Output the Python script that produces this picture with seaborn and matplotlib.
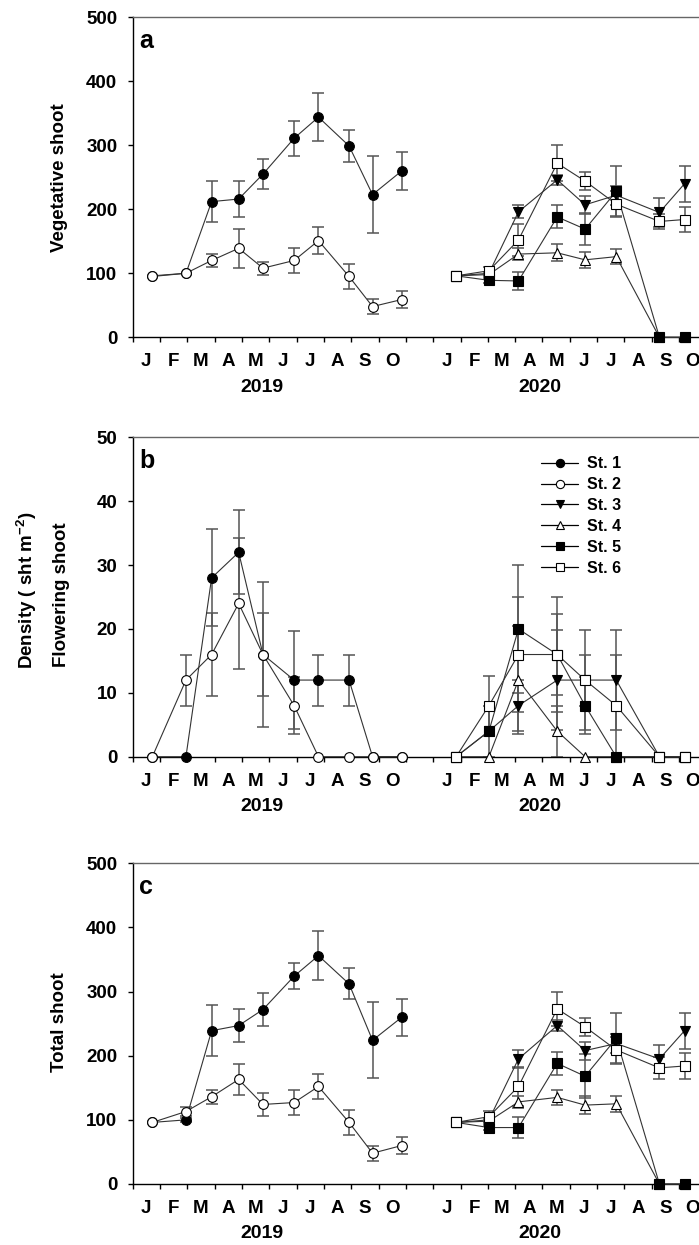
import pandas as pd
import matplotlib
matplotlib.use("Agg")
import matplotlib.pyplot as plt
from matplotlib.lines import Line2D
from matplotlib.ticker import NullFormatter
import seaborn as sns

sns.set_style("ticks")
plt.rcParams.update({
    "font.family": ["Liberation Sans", "DejaVu Sans"],
    "font.weight": "bold",
    "axes.labelweight": "bold",
    "text.color": "black",
    "axes.labelcolor": "black",
    "xtick.color": "black",
    "ytick.color": "black",
    "mathtext.fontset": "custom",
    "mathtext.rm": "Liberation Sans:bold",
    "mathtext.bf": "Liberation Sans:bold",
    "mathtext.default": "bf",
})

# sampling dates, in months from 1 Jan 2019 (Nov/Dec 2019 squeezed into one slot)
X_2019 = [0.72, 1.95, 2.89, 3.88, 4.77, 5.91, 6.80, 7.92, 8.78, 9.85]
X_2020 = [11.84, 13.04, 14.12, 15.54, 16.56, 17.70, 19.28, 20.20]
MONTHS = ["J", "F", "M", "A", "M", "J", "J", "A", "S", "O"]
STATIONS = ["St. 1", "St. 2", "St. 3", "St. 4", "St. 5", "St. 6"]

# (a) vegetative shoot density, mean and SE
veg_st1 = [96, 100, 212, 216, 255, 311, 344, 299, 223, 260]
veg_st1_se = [0, 0, 32, 28, 23, 27, 37, 25, 60, 30]
veg_st2 = [95, 100, 120, 139, 108, 120, 151, 95, 48, 59]
veg_st2_se = [0, 0, 10, 30, 10, 19, 21, 20, 12, 13]
veg_st3 = [96, 100, 196, 246, 207, 222, 195, 240]
veg_st3_se = [0, 0, 10, 8, 14, 15, 22, 28]
veg_st4 = [96, 98, 130, 132, 121, 126, 0, 0]
veg_st4_se = [0, 3, 9, 13, 13, 12, 0, 0]
veg_st5 = [96, 89, 88, 188, 169, 228, 0, 0]
veg_st5_se = [0, 4, 14, 18, 25, 39, 0, 0]
veg_st6 = [96, 104, 152, 272, 244, 208, 181, 184]
veg_st6_se = [0, 6, 25, 28, 14, 20, 12, 20]

# (b) flowering shoot density
flw_st1 = [0, 0, 28, 32, 16, 12, 12, 12, 0, 0]
flw_st1_se = [0, 0, 7.6, 6.6, 11.3, 7.7, 4, 4, 0, 0]
flw_st2 = [0, 12, 16, 24, 16, 8, 0, 0, 0, 0]
flw_st2_se = [0, 4, 6.5, 10.3, 6.5, 4.5, 0, 0, 0, 0]
flw_st3 = [0, 4, 8, 12, 12, 12, 0, 0]
flw_st3_se = [0, 0, 4, 7.8, 4, 7.8, 0, 0]
flw_st4 = [0, 0, 12, 4, 0, 0, 0, 0]
flw_st4_se = [0, 0, 8.5, 4, 0, 0, 0, 0]
flw_st5 = [0, 4, 20, 16, 8, 0, 0, 0]
flw_st5_se = [0, 4, 10, 9, 4.5, 0, 0, 0]
flw_st6 = [0, 8, 16, 16, 12, 8, 0, 0]
flw_st6_se = [0, 4.7, 9, 6.4, 7.8, 8, 0, 0]

# (c) total shoot density
tot_st1 = [96, 100, 239, 247, 272, 324, 356, 312, 224, 260]
tot_st1_se = [0, 3, 40, 26, 26, 20, 38, 24, 59, 29]
tot_st2 = [96, 113, 136, 163, 124, 127, 152, 96, 48, 60]
tot_st2_se = [0, 7, 11, 24, 18, 20, 20, 20, 12, 13]
tot_st3 = [96, 100, 195, 247, 208, 219, 195, 239]
tot_st3_se = [0, 0, 14, 8, 14, 15, 22, 28]
tot_st4 = [96, 98, 128, 135, 123, 125, 0, 0]
tot_st4_se = [0, 3, 9, 12, 14, 12, 0, 0]
tot_st5 = [96, 88, 88, 188, 168, 227, 0, 0]
tot_st5_se = [0, 4, 16, 18, 34, 40, 0, 0]
tot_st6 = [96, 105, 152, 273, 245, 209, 181, 184]
tot_st6_se = [0, 9, 30, 26, 14, 20, 17, 20]

# marker, face colour, marker size
STYLE = {
    "St. 1": ("o", "black", 7),
    "St. 2": ("o", "white", 7),
    "St. 3": ("v", "black", 7.5),
    "St. 4": ("^", "white", 7.5),
    "St. 5": ("s", "black", 6.5),
    "St. 6": ("s", "white", 6.5),
}
LINE_C = "#333333"
ERR_C = "#555555"


def station_table(values, errors):
    """Long-form table for one panel."""
    rows = []
    for name, ys, es in zip(STATIONS, values, errors):
        xs = X_2019 if len(ys) == len(X_2019) else X_2020
        for x, y, e in zip(xs, ys, es):
            rows.append({"station": name, "month": x, "density": y, "se": e})
    return pd.DataFrame(rows)


veg = station_table([veg_st1, veg_st2, veg_st3, veg_st4, veg_st5, veg_st6],
                    [veg_st1_se, veg_st2_se, veg_st3_se, veg_st4_se, veg_st5_se, veg_st6_se])
flw = station_table([flw_st1, flw_st2, flw_st3, flw_st4, flw_st5, flw_st6],
                    [flw_st1_se, flw_st2_se, flw_st3_se, flw_st4_se, flw_st5_se, flw_st6_se])
tot = station_table([tot_st1, tot_st2, tot_st3, tot_st4, tot_st5, tot_st6],
                    [tot_st1_se, tot_st2_se, tot_st3_se, tot_st4_se, tot_st5_se, tot_st6_se])

fig = plt.figure(figsize=(6.99, 12.45), dpi=100)
AX_L, AX_W = 0.1898, 0.8208   # right edge runs just past the canvas, as in the source
ax_a = fig.add_axes([AX_L, 0.7291, AX_W, 0.2570])
ax_b = fig.add_axes([AX_L, 0.3922, AX_W, 0.2565])
ax_c = fig.add_axes([AX_L, 0.0490, AX_W, 0.2576])


def draw_panel(ax, df, ymax, ystep, letter):
    for name in STATIONS:
        sub = df[df["station"] == name]
        marker, face, ms = STYLE[name]
        eb = sub[sub["se"] > 0]
        ax.errorbar(eb["month"], eb["density"], yerr=eb["se"], fmt="none",
                    ecolor=ERR_C, elinewidth=1.1, capsize=4.5, capthick=1.1, zorder=1)
        sns.lineplot(data=sub, x="month", y="density", ax=ax, color=LINE_C, lw=0.8,
                     marker=marker, markersize=ms, markerfacecolor=face,
                     markeredgecolor="black", markeredgewidth=0.8,
                     estimator=None, sort=False, clip_on=False, zorder=3)

    ax.set_xlim(0, 21)
    ax.set_ylim(0, ymax)
    ax.set_yticks(range(0, ymax + 1, ystep))
    ax.set_xticks(range(0, 22))
    ax.xaxis.set_major_formatter(NullFormatter())
    centers = [m + 0.5 for m in range(10)] + [m + 11.5 for m in range(10)]
    ax.set_xticks(centers, minor=True)
    ax.set_xticklabels(MONTHS + MONTHS, minor=True)
    ax.tick_params(axis="both", which="major", direction="out", length=3.6, width=1,
                   color="black", labelsize=13.5, pad=7.5)
    ax.tick_params(axis="x", which="minor", length=0, labelsize=13.5, pad=11.5)
    ax.set_xlabel("")
    ax.set_ylabel("")
    for side in ["left", "bottom", "right"]:
        ax.spines[side].set_color("black")
        ax.spines[side].set_linewidth(1)
    ax.spines["top"].set_color("#666666")
    ax.spines["top"].set_linewidth(1)

    for year, xpos in [("2019", 4.73), ("2020", 14.92)]:
        ax.annotate(year, xy=(xpos, 0), xycoords=("data", "axes fraction"),
                    xytext=(0, -36), textcoords="offset points",
                    ha="center", va="center", fontsize=14, fontweight="bold")
    ax.text(0.011, 0.903, letter, transform=ax.transAxes, ha="left", va="baseline",
            fontsize=18, fontweight="bold")


draw_panel(ax_a, veg, 500, 100, "a")
draw_panel(ax_b, flw, 50, 10, "b")
draw_panel(ax_c, tot, 500, 100, "c")

fig.text(0.0858, 0.8576, "Vegetative shoot", rotation=90, ha="center", va="center",
         fontsize=13.5, fontweight="bold")
fig.text(0.0883, 0.5221, "Flowering shoot", rotation=90, ha="center", va="center",
         fontsize=13.5, fontweight="bold")
fig.text(0.0382, 0.5261, r"Density ( sht m$^{-2}$)", rotation=90, ha="center", va="center",
         fontsize=13.5, fontweight="bold")
fig.text(0.0858, 0.1791, "Total shoot", rotation=90, ha="center", va="center",
         fontsize=13.5, fontweight="bold")

handles = []
for name in STATIONS:
    marker, face, ms = STYLE[name]
    handles.append(Line2D([], [], color="black", lw=0.9, marker=marker, markersize=ms * 0.85,
                          markerfacecolor=face, markeredgecolor="black", markeredgewidth=0.8))
ax_b.legend(handles, STATIONS, loc="upper left", bbox_to_anchor=(0.712, 0.941),
            frameon=False, borderaxespad=0, borderpad=0, handlelength=2.3,
            handletextpad=0.55, labelspacing=0.37, prop={"size": 11.5, "weight": "bold"})

fig.savefig("out.png", dpi=100)
